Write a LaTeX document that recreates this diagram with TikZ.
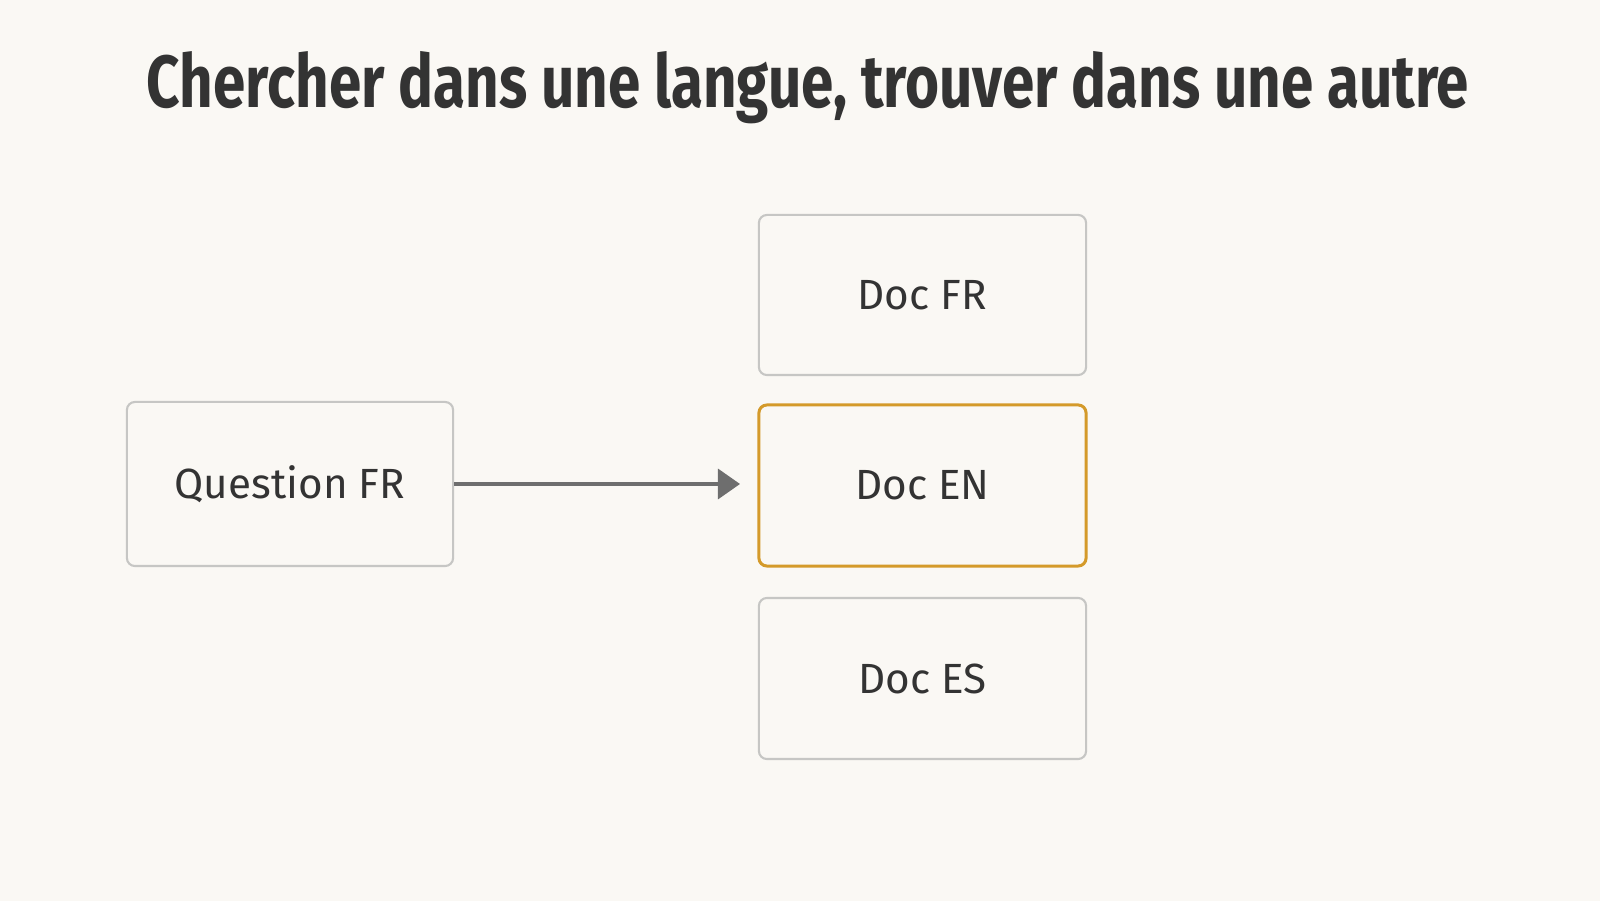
\documentclass[tikz,border=0pt]{standalone}
\usepackage{fontspec}
\setmainfont{Fira Sans}
\usetikzlibrary{arrows.meta}
\definecolor{bg}{HTML}{FAF8F4}
\definecolor{bd}{HTML}{C6C6C4}
\definecolor{hl}{HTML}{D49A2A}
\definecolor{tx}{HTML}{333333}
\definecolor{ar}{HTML}{6E6E6E}
\begin{document}
\begin{tikzpicture}[x=0.01cm,y=-0.01cm,
  box/.style={draw=bd,line width=0.6pt,rounded corners=0.08cm,fill=bg,text=tx,
    font=\fontsize{12}{14}\selectfont,inner sep=0pt},
  hlbox/.style={box,draw=hl,line width=0.85pt}]
\fill[bg] (0,0) rectangle (1600,901);
\useasboundingbox (0,0) rectangle (1600,901);
\node[text=tx,font=\fontsize{21}{25}\selectfont\bfseries] (title) at (808,88) {\scalebox{0.79}[1]{Chercher dans une langue, trouver dans une autre}};
\node[box,minimum width=3.26cm,minimum height=1.64cm] (q) at (290,484) {Question FR};
\node[box,minimum width=3.27cm,minimum height=1.60cm] (fr) at (922.5,295) {Doc FR};
\node[hlbox,minimum width=3.27cm,minimum height=1.61cm] (en) at (922.5,485.5) {Doc EN};
\node[box,minimum width=3.27cm,minimum height=1.61cm] (es) at (922.5,678.5) {Doc ES};
\coordinate (tip) at (740,484);
\draw[ar,line width=0.9pt,-{Triangle[length=0.22cm,width=0.3cm]}] (q.east) -- (tip);
\end{tikzpicture}
\end{document}
